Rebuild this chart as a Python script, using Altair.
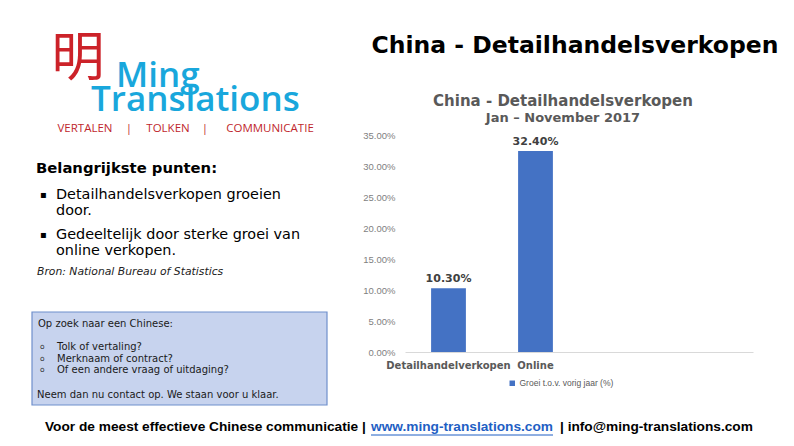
import altair as alt
import pandas as pd

# ---- data ----
categories = ["Detailhandelverkopen", "Online"]
values = [0.103, 0.324]
series_name = "Groei t.o.v. vorig jaar (%)"
y_ticks = [0.0, 0.05, 0.10, 0.15, 0.20, 0.25, 0.30, 0.35]
empty_slots = ["_slot3", "_slot4"]

slide_title = "China - Detailhandelsverkopen"
chart_title = "China - Detailhandelsverkopen"
chart_subtitle = "Jan \u2013 November 2017"
logo_char = "明"
logo_words = ["Ming", "Translations"]
tagline = ["VERTALEN", "|", "TOLKEN", "|", "COMMUNICATIE"]
points_header = "Belangrijkste punten:"
points = [["Detailhandelsverkopen groeien", "door."],
          ["Gedeeltelijk door sterke groei van", "online verkopen."]]
source = "Bron: National Bureau of Statistics"
box_head = "Op zoek naar een Chinese:"
box_items = ["Tolk of vertaling?", "Merknaam of contract?", "Of een andere vraag of uitdaging?"]
box_foot = "Neem dan nu contact op. We staan voor u klaar."
footer = ["Voor de meest effectieve Chinese communicatie |", "www.ming-translations.com", "| info@ming-translations.com"]

df = pd.DataFrame({"cat": categories, "val": values, "series": [series_name] * len(categories)})

# ---- layout (page coordinates of plot area) ----
PX0, PY0 = 405, 135
W, H = 348, 217
TOTAL_W, TOTAL_H = 778, 430


def txt(s, px, py, size, align="left", font="DejaVu Sans", color="#000000", **kw):
    return alt.Chart(pd.DataFrame({"t": [s]})).mark_text(
        align=align, baseline="middle", fontSize=size, font=font, color=color, **kw
    ).encode(text="t:N", x=alt.value(px - PX0), y=alt.value(py - PY0))


layers = []

# box behind the contact text
layers.append(
    alt.Chart(pd.DataFrame({"t": [0]})).mark_rect(fill="#c7d3ee", stroke="#6f8fcc", strokeWidth=1.2).encode(
        x=alt.value(32 - PX0), x2=alt.value(327 - PX0), y=alt.value(312 - PY0), y2=alt.value(405 - PY0)
    )
)

# bars
x_enc = alt.X(
    "cat:N",
    sort=None,
    scale=alt.Scale(domain=categories + empty_slots, paddingInner=0.6, paddingOuter=0.3),
    axis=alt.Axis(
        title=None, labelAngle=0, labelFontSize=10, labelFontWeight="bold", labelColor="#595959",
        labelFont="DejaVu Sans", domainColor="#d9d9d9", ticks=False, labelPadding=8,
        labelExpr="indexof(['Detailhandelverkopen','Online'], datum.value) >= 0 ? datum.value : ''",
    ),
)
y_enc = alt.Y(
    "val:Q",
    scale=alt.Scale(domain=[0, 0.35], nice=False),
    axis=alt.Axis(
        title=None, values=y_ticks, format=".2%", labelFontSize=9.5, labelColor="#7f7f7f",
        labelFont="Liberation Sans", domain=False, ticks=False, grid=False, labelPadding=10,
        labelOverlap=False, labelFlush=False, labelBound=False, labelSeparation=0,
    ),
)
bars = alt.Chart(df).mark_bar().encode(
    x=x_enc,
    y=y_enc,
    color=alt.Color(
        "series:N",
        scale=alt.Scale(range=["#4472c4"]),
        legend=alt.Legend(
            orient="none", legendX=103, legendY=244, title=None, symbolType="square",
            symbolSize=30, labelFontSize=8.5, labelColor="#595959", labelFont="Liberation Sans",
            labelOffset=3, padding=0,
        ),
    ),
)
labels = alt.Chart(df).mark_text(
    baseline="bottom", dy=-4, fontSize=11, fontWeight="bold", color="#404040", font="DejaVu Sans"
).encode(
    x=x_enc,
    y=y_enc,
    text=alt.Text("val:Q", format=".2%"),
)
layers += [bars, labels]

# chart title
layers.append(txt(chart_title, 563, 101, 15, align="center", color="#595959", fontWeight="bold"))
layers.append(txt(chart_subtitle, 563, 118, 13, align="center", color="#595959", fontWeight="bold"))

# slide title
layers.append(txt(slide_title, 575, 46, 23.5, align="center", fontWeight="bold"))

# logo
layers.append(txt(logo_char, 78, 60, 53, align="center", font="Noto Sans CJK SC", color="#cc2229"))
layers.append(txt(logo_words[0], 116, 76, 35, font="Open Sans", color="#19a7dc", fontWeight=600))
layers.append(txt(logo_words[1], 91, 100, 35, font="Open Sans", color="#19a7dc", fontWeight=600))
tag_x = [85, 129, 168, 205, 270]
for w, xx in zip(tagline, tag_x):
    layers.append(txt(w, xx, 129, 11.5, align="center", color="#c0272d", font="Open Sans"))

# key points
layers.append(txt(points_header, 36, 169, 14.8, fontWeight="bold"))
py = 195
for item in points:
    layers.append(txt("\u25aa", 40, py, 10))
    for line in item:
        layers.append(txt(line, 56, py, 14.4))
        py += 15.5
    py += 9
layers.append(txt(source, 37, 272, 10.8, color="#222222", fontStyle="italic"))

# contact box text
layers.append(txt(box_head, 38, 324, 10, color="#1a1a1a"))
by = 347
for it in box_items:
    layers.append(txt("o", 40, by, 7.5, color="#333333"))
    layers.append(txt(it, 57, by, 10, color="#1a1a1a"))
    by += 11.5
layers.append(txt(box_foot, 37, 395, 10, color="#1a1a1a"))

# footer
layers.append(txt(footer[0], 45, 427, 13.7, font="Liberation Sans", fontWeight="bold"))
layers.append(txt(footer[1], 371, 427, 13.7, font="Liberation Sans", fontWeight="bold", color="#1f5fc4"))
layers.append(
    alt.Chart(pd.DataFrame({"t": [0]})).mark_rule(color="#1f5fc4", strokeWidth=1).encode(
        x=alt.value(371 - PX0), x2=alt.value(553 - PX0), y=alt.value(435 - PY0)
    )
)
layers.append(txt(footer[2], 560, 427, 13.7, font="Liberation Sans", fontWeight="bold"))

chart = alt.layer(*layers).properties(
    width=W,
    height=H,
    autosize=alt.AutoSizeParams(type="none"),
    padding={"left": PX0 - 8, "top": PY0 - 8, "right": TOTAL_W - (PX0 - 8) - W, "bottom": TOTAL_H - (PY0 - 8) - H},
    background="white",
).configure_view(stroke=None)

chart.save("out.html", embed_options={"renderer": "svg", "actions": False})
